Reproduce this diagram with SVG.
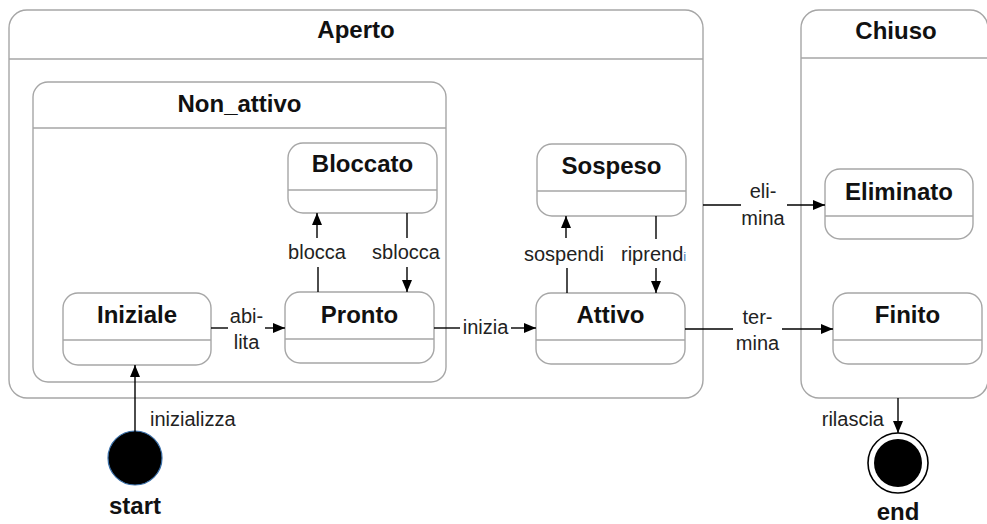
<svg xmlns="http://www.w3.org/2000/svg" width="987" height="524" viewBox="0 0 987 524">
  <defs>
    <marker id="arrow" markerUnits="userSpaceOnUse" markerWidth="12" markerHeight="10" refX="12" refY="5" orient="auto">
      <path d="M0,0 L12,5 L0,10 z" fill="#000"/>
    </marker>
    <style>
      .box { fill: #fff; stroke: #a6a6a6; stroke-width: 1.4; }
      .div { stroke: #a6a6a6; stroke-width: 1.4; }
      .title { font-family: "Liberation Sans", Arial, sans-serif; font-weight: bold; font-size: 24px; fill: #111; text-anchor: middle; }
      .lbl { font-family: "Liberation Sans", Arial, sans-serif; font-size: 20px; fill: #222; }
      .mid { text-anchor: middle; }
      .edge { stroke: #000; stroke-width: 1.4; fill: none; }
      .arr { marker-end: url(#arrow); }
    </style>
  </defs>
  <rect width="987" height="524" fill="#fff"/>

  <!-- composite states -->
  <g id="aperto">
    <rect class="box" x="9" y="10" width="694" height="388" rx="18"/>
    <line class="div" x1="9" y1="59" x2="703" y2="59"/>
    <text class="title" x="356" y="38">Aperto</text>
  </g>
  <g id="chiuso">
    <rect class="box" x="801" y="10" width="187" height="388" rx="18"/>
    <line class="div" x1="801" y1="58" x2="988" y2="58"/>
    <text class="title" x="896" y="39">Chiuso</text>
  </g>
  <g id="non_attivo">
    <rect class="box" x="33" y="82" width="413" height="300" rx="15"/>
    <line class="div" x1="33" y1="128" x2="446" y2="128"/>
    <text class="title" x="239.5" y="112">Non_attivo</text>
  </g>

  <!-- simple states -->
  <g id="bloccato">
    <rect class="box" x="288" y="143" width="149" height="70" rx="15"/>
    <line class="div" x1="288" y1="190" x2="437" y2="190"/>
    <text class="title" x="362.5" y="172">Bloccato</text>
  </g>
  <g id="sospeso">
    <rect class="box" x="537" y="144" width="149" height="72" rx="15"/>
    <line class="div" x1="537" y1="191" x2="686" y2="191"/>
    <text class="title" x="611.5" y="174">Sospeso</text>
  </g>
  <g id="eliminato">
    <rect class="box" x="825" y="169" width="148" height="70" rx="15"/>
    <line class="div" x1="825" y1="216" x2="973" y2="216"/>
    <text class="title" x="899" y="200">Eliminato</text>
  </g>
  <g id="iniziale">
    <rect class="box" x="63" y="293" width="148" height="72" rx="15"/>
    <line class="div" x1="63" y1="340" x2="211" y2="340"/>
    <text class="title" x="137" y="323">Iniziale</text>
  </g>
  <g id="pronto">
    <rect class="box" x="285" y="292" width="149" height="71" rx="15"/>
    <line class="div" x1="285" y1="339" x2="434" y2="339"/>
    <text class="title" x="359.5" y="323">Pronto</text>
  </g>
  <g id="attivo">
    <rect class="box" x="536" y="293" width="149" height="71" rx="15"/>
    <line class="div" x1="536" y1="340" x2="685" y2="340"/>
    <text class="title" x="610.5" y="323">Attivo</text>
  </g>
  <g id="finito">
    <rect class="box" x="833" y="293" width="149" height="71" rx="15"/>
    <line class="div" x1="833" y1="340" x2="982" y2="340"/>
    <text class="title" x="907.5" y="323">Finito</text>
  </g>

  <!-- pseudo states -->
  <g id="start">
    <circle cx="135" cy="458" r="27" fill="#000" stroke="#3a6fa8" stroke-width="1.2"/>
    <text class="title" x="135" y="514">start</text>
  </g>
  <g id="end">
    <circle cx="898" cy="463" r="30" fill="#fff" stroke="#000" stroke-width="1.6"/>
    <circle cx="898" cy="463" r="24" fill="#000"/>
    <text class="title" x="898" y="520">end</text>
  </g>

  <!-- transitions -->
  <g id="connectors">
    <line class="edge arr" x1="135" y1="432" x2="135" y2="365"/>
    <text class="lbl" x="150" y="426">inizializza</text>

    <line class="edge" x1="211" y1="328" x2="228" y2="328"/>
    <line class="edge arr" x1="265" y1="328" x2="285" y2="328"/>
    <text class="lbl mid" x="246.5" y="323">abi-</text>
    <text class="lbl mid" x="246.5" y="349">lita</text>

    <line class="edge" x1="318" y1="292" x2="318" y2="267"/>
    <line class="edge arr" x1="317" y1="238" x2="317" y2="213"/>
    <text class="lbl mid" x="317" y="259">blocca</text>

    <line class="edge" x1="407" y1="213" x2="407" y2="238"/>
    <line class="edge arr" x1="407" y1="267" x2="407" y2="292"/>
    <text class="lbl mid" x="406" y="259">sblocca</text>

    <line class="edge" x1="434" y1="328" x2="460" y2="328"/>
    <line class="edge arr" x1="511" y1="328" x2="536" y2="328"/>
    <text class="lbl mid" x="485.5" y="334">inizia</text>

    <line class="edge" x1="567" y1="293" x2="567" y2="268"/>
    <line class="edge arr" x1="566" y1="238" x2="566" y2="216"/>
    <text class="lbl mid" x="564" y="261">sospendi</text>

    <line class="edge" x1="656" y1="216" x2="656" y2="239"/>
    <line class="edge arr" x1="656" y1="268" x2="656" y2="293"/>
    <text class="lbl" x="621" y="261">riprend<tspan font-size="13" fill="#4a7ebb">i</tspan></text>

    <line class="edge" x1="703" y1="205" x2="741" y2="205"/>
    <line class="edge arr" x1="787" y1="205" x2="825" y2="205"/>
    <text class="lbl mid" x="763" y="198">eli-</text>
    <text class="lbl mid" x="763" y="225">mina</text>

    <line class="edge" x1="685" y1="329" x2="733" y2="329"/>
    <line class="edge arr" x1="782" y1="329" x2="833" y2="329"/>
    <text class="lbl mid" x="757.5" y="324">ter-</text>
    <text class="lbl mid" x="757.5" y="350">mina</text>

    <line class="edge arr" x1="898" y1="398" x2="898" y2="433"/>
    <text class="lbl" x="884" y="426" text-anchor="end">rilascia</text>
  </g>
</svg>
